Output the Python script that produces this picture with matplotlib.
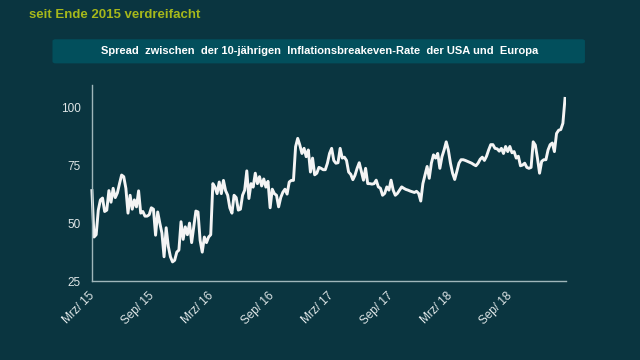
import matplotlib.pyplot as plt
import matplotlib.dates as mdates
from matplotlib.patches import FancyBboxPatch
import pandas as pd

# spread (basis points), mid-March 2015 to end of February 2019
spread = [
    64, 44, 45, 55.6, 60, 60.8, 55, 55.6, 64, 59,
    65, 61, 63, 67, 70.7, 70, 65, 54.3, 62, 56,
    60, 57, 63.9, 54.3, 55, 53, 53, 53.6, 56.6, 56,
    44.8, 54.8, 50, 45.7, 35.5, 48, 40, 35.5, 33.3, 34,
    37.5, 38.4, 50.6, 43, 48.4, 45, 50, 41.6, 48.4, 55.2,
    54.8, 42.6, 37.5, 44, 41.6, 44, 45, 67, 65.5, 62.7,
    67.7, 62.7, 68.4, 64, 62, 56.6, 54.3, 62, 61, 55.6,
    56, 62, 64.2, 72.5, 60.6, 67, 65.5, 71.5, 67, 70,
    66, 69, 65.5, 68, 56.6, 64.6, 62.7, 62, 57, 61,
    63.3, 64.6, 62.5, 67.7, 68.4, 68.4, 82.9, 86.5, 83.6, 80,
    82.2, 78.6, 81.5, 72, 78, 70.8, 71.5, 74, 73.6, 73,
    73, 75.8, 80, 82.2, 77, 75.8, 76, 82.2, 78, 78.4,
    77, 72, 71, 68.7, 70.6, 73.6, 76,
    72.2, 68.5, 73.6, 67, 67, 66.8, 67, 68.5, 65.6, 65,
    62, 62.8, 65.6, 64.2, 68.5, 64.2, 62, 62.8, 64.2, 65.6,
    65, 64.5, 64.2, 63.8, 63.5, 63.2, 63.7, 62.8, 59.5, 67,
    70.8, 74.4, 69.3, 75.8, 79.4, 78, 80, 73.6, 78.6, 81.5,
    85, 81.5, 75.8, 71.5, 68.8, 72.2, 75.8, 77.3, 77.3, 77,
    76.6, 76.2, 75.8, 75.2, 74.7, 75.8, 77.5, 78.4, 77, 78.8,
    81.5, 83.8, 83.8, 82.2, 82, 81, 82.2, 80, 83, 80.8,
    83, 80.3, 80.8, 78, 78.8, 74.7, 75, 75.8, 74, 73.6,
    74, 85, 83.6, 78, 71.5, 76.6, 77.3, 77.3, 81.5, 83.8,
    84.5, 80.8, 88.6, 90, 90.3, 93, 103.7,
]
dates = pd.date_range("2015-03-13", "2019-02-27", periods=len(spread))

tick_dates = pd.to_datetime(["2015-03-01", "2015-09-01", "2016-03-01", "2016-09-01",
                             "2017-03-01", "2017-09-01", "2018-03-01", "2018-09-01"])
tick_labels = ["Mrz/ 15", "Sep/ 15", "Mrz/ 16", "Sep/ 16",
               "Mrz/ 17", "Sep/ 17", "Mrz/ 18", "Sep/ 18"]
y_ticks = [25, 50, 75, 100]

bg = "#0a3540"
fig = plt.figure(figsize=(6.4, 3.6), dpi=100, facecolor=bg)

# subtitle line at the top
fig.text(0.045, 0.957, "seit Ende 2015 verdreifacht", color="#a6b81b",
         fontsize=9.5, fontweight="bold", ha="left", va="center", family="Liberation Sans")

# title box
box = FancyBboxPatch((0.082, 0.824), 0.832, 0.067, boxstyle="round,pad=0,rounding_size=0.005",
                     transform=fig.transFigure, facecolor="#024f5c", edgecolor="none")
fig.patches.append(box)
fig.text(0.499, 0.857, "Spread  zwischen  der 10-jährigen  Inflationsbreakeven-Rate  der USA und  Europa",
         color="white", fontsize=8.0, fontweight="bold", ha="center", va="center",
         family="Liberation Sans")

ax = fig.add_axes([88 / 640, 0.219, (566 - 88) / 640, 0.545])
ax.set_facecolor("none")
ax.plot(dates, spread, color="#f4f4f4", linewidth=2.1, solid_joinstyle="round")

ax.set_xlim(pd.Timestamp("2015-03-01"), dates[-1] + pd.Timedelta(days=3))
ax.set_ylim(25, 109.5)
ax.set_yticks(y_ticks)
ax.set_xticks(tick_dates)
ax.set_xticklabels(tick_labels, rotation=45, ha="right", rotation_mode="anchor")

for s in ["top", "right"]:
    ax.spines[s].set_visible(False)
for s in ["left", "bottom"]:
    ax.spines[s].set_color("#9fb6ba")
    ax.spines[s].set_linewidth(1)
ax.spines["left"].set_position(("data", mdates.date2num(dates[0])))
ax.spines["bottom"].set_bounds(mdates.date2num(dates[0]), mdates.date2num(dates[-1]) + 3)

ax.tick_params(axis="both", length=0, colors="#dfe6e7", labelsize=8.5)
ax.tick_params(axis="x", pad=6)
ax.tick_params(axis="y", pad=8)
for lab in ax.get_xticklabels() + ax.get_yticklabels():
    lab.set_family("Liberation Sans")

fig.savefig("out.png", dpi=100, facecolor=bg)
